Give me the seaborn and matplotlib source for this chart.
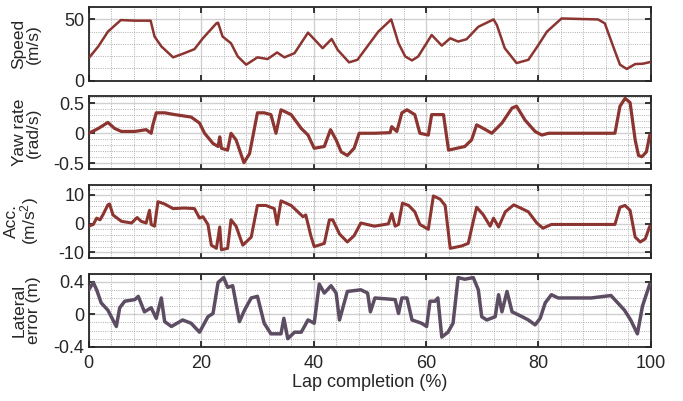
import matplotlib
matplotlib.use("Agg")
import matplotlib.pyplot as plt
from matplotlib.ticker import MultipleLocator, FixedLocator
import seaborn as sns
import pandas as pd

# values (lap completion %, value)
speed_lap = [0, 1.7, 3.4, 5.7, 8.2, 11, 11.7, 12.9, 15, 17, 18.8, 20.3, 22.7, 23, 23.8, 25.3,
             26.5, 28, 30, 31.8, 33.5, 34.8, 36.6, 39, 41.6, 43.2, 44.3, 46.3, 47.8, 49.2,
             51.5, 53.8, 55.1, 56.3, 57.5, 58.6, 61, 62.8, 64.3, 65.7, 67.2, 69.3, 72, 72.6,
             74, 76.1, 78.2, 80, 81.5, 84.1, 90.6, 91.8, 93.3, 94.5, 95.7, 97.2, 98.6, 99.8]
speed_val = [18.4, 28, 40, 49.5, 49, 49, 36, 28, 19, 22.4, 25.7, 34.6, 46.8, 47.3, 36, 30.5,
             19.7, 13, 19, 17.6, 23, 19, 22.4, 39.2, 26.5, 34, 25, 14.9, 17, 25.7,
             40, 50, 30.5, 19.7, 16.5, 19.7, 37.3, 28.6, 34.6, 31.9, 33.8, 44, 50, 45.4,
             26.5, 14.3, 17, 29.2, 40, 50.8, 50, 46.8, 27.8, 13, 9.5, 13.5, 13.8, 15.1]

yaw_lap = [0, 1.7, 3.4, 4.6, 5.8, 8.2, 10.2, 11.1, 11.4, 12, 13.5, 15.3, 18.2, 19.7, 20.6,
           22.1, 23, 23.3, 23.6, 24.7, 25.3, 26.2, 27.6, 28.6, 30, 31.2, 32.4, 33.3, 34.2,
           36, 37.8, 39, 40.1, 41.9, 43, 44, 44.9, 46, 47.2, 48.1, 50.8, 53.6, 53.9, 54.8,
           55.7, 56.6, 58, 58.9, 60.4, 61, 63.1, 64, 66.9, 68.1, 69, 70.2, 71.7, 73.5, 75.3,
           76.1, 77.6, 79.4, 80.6, 81.8, 93.6, 94.5, 95.4, 96.3, 97.2, 97.8, 98.4, 99.2, 99.8]
yaw_val = [0, 0.08, 0.18, 0.08, 0.03, 0.03, 0.06, 0, 0.14, 0.34, 0.34, 0.31, 0.27, 0.17, 0,
           -0.17, -0.22, -0.06, -0.25, -0.28, 0, -0.11, -0.49, -0.34, 0.34, 0.34, 0.31, 0, 0.39,
           0.31, 0.08, -0.03, -0.25, -0.22, 0.06, -0.11, -0.31, -0.37, -0.25, 0, 0, 0.01, 0.11, 0.03,
           0.34, 0.39, 0.31, 0, -0.03, 0.31, 0.31, -0.28, -0.22, -0.11, 0.14, 0.08, 0, 0.17, 0.42,
           0.45, 0.22, 0.03, -0.03, 0, 0, 0.45, 0.58, 0.51, -0.11, -0.37, -0.39, -0.31, -0.03]

acc_lap = [0, 0.8, 1.4, 2, 2.5, 3.4, 3.7, 4.3, 5.8, 7.6, 8.6, 9.3, 10.2, 10.8, 11.1, 11.7,
           12.3, 13.5, 15, 17, 18.8, 19.7, 20.3, 21.2, 21.8, 22.7, 23.3, 23.6, 24.7, 25.3,
           26.2, 27.4, 28.9, 30, 31.5, 33, 33.5, 34.2, 36, 38.1, 38.6, 39.5, 40.1, 41.9, 42.8,
           43.4, 44.6, 46, 47.2, 48.4, 50.8, 53.3, 53.9, 54.5, 55.1, 55.8, 56.9, 58, 58.9,
           60.4, 61.3, 62.5, 63.4, 64.3, 66.3, 67.5, 68.4, 69, 70.2, 71.4, 72, 72.9, 74.1,
           75.6, 76.5, 78.2, 79.7, 80.8, 82.3, 87.6, 93.6, 94.5, 95.4, 96.3, 97.2, 98.1, 99, 99.8]
acc_val = [-0.9, -0.3, 1.9, 1.3, 3, 6.5, 6.8, 3, 0.8, 0.2, 2.1, 0.8, 0.2, 4.6, -0.3, -0.9,
           7.6, 6.8, 5.2, 5.4, 5.2, 1.9, 2.4, -0.3, -7.5, -8.6, -1.2, -9.1, -8.6, 1.3,
           -0.9, -7.5, -4.7, 6.3, 6.3, 5.2, -0.3, 7.9, 6.3, 2.4, 3, -4.2, -8, -6.9, 1.3,
           1.3, -3.6, -6.4, -4.2, 0.2, -0.9, -0.1, 3.5, -0.9, -0.3, 7.1, 6.3, 4.1, -0.3,
           -2, 9.6, 8.5, 6.3, -8.6, -7.8, -6.9, 0.8, 5.7, 3, -0.9, 1.9, -1.2, 4.1,
           6.5, 5.7, 4.1, 0.2, -1.6, -0.3, -0.3, -0.3, 5.7, 6.3, 4.6, -4.7, -6.4, -5.3, -0.9]

lat_lap = [0, 0.8, 1.4, 2.2, 3.4, 4, 4.9, 5.5, 6.4, 8.2, 8.8, 9.9, 11.1, 12, 12.9, 13.5,
           14.7, 16.7, 18.2, 19.7, 21.2, 22.1, 23, 24, 24.7, 25.6, 26.8, 27.7, 28.9, 30,
           31.2, 32.4, 34.2, 34.7, 35.4, 36.6, 37.8, 39, 40.1, 41, 41.9, 43.1, 44, 44.6,
           46, 48.4, 49.6, 50.1, 50.9, 54.5, 55.1, 55.7, 56.6, 57.5, 59.2, 60.1, 60.7, 61.6,
           62.1, 62.8, 63.9, 64.8, 65.7, 66.9, 68.4, 69.3, 69.9, 70.8, 72.3, 72.9, 73.5,
           74.4, 75.3, 77.1, 78.2, 79.4, 80.3, 81.2, 82.3, 83.5, 89.4, 92.9, 95.3, 96.4,
           97.6, 98.5, 99.8]
lat_val = [0.3, 0.39, 0.3, 0.14, 0.05, -0.03, -0.15, 0.08, 0.16, 0.18, 0.22, 0.03, 0.08, -0.05,
           0.2, -0.09, -0.15, -0.07, -0.11, -0.22, -0.03, 0.01, 0.39, 0.45, 0.33, 0.35, -0.09,
           0.05, 0.2, 0.22, -0.11, -0.24, -0.24, -0.05, -0.3, -0.22, -0.22, -0.07, -0.11, 0.37,
           0.26, 0.35, 0.26, -0.07, 0.28, 0.3, 0.26, 0.03, 0.2, 0.18, 0.01, 0.2, 0.2, -0.07,
           -0.11, -0.15, 0.16, 0.16, 0.2, -0.28, -0.22, -0.11, 0.45, 0.43, 0.45, 0.3, -0.03,
           -0.07, -0.03, 0.24, 0.03, 0.28, 0.03, -0.03, -0.07, -0.13, -0.05, 0.14, 0.24, 0.2,
           0.2, 0.23, 0.05, -0.07, -0.24, 0.1, 0.37]

RED = "#8c3430"
PURPLE = "#5d4d63"

sns.set_style("ticks")
plt.rcParams["font.family"] = ["Liberation Sans", "DejaVu Sans"]
plt.rcParams["mathtext.fontset"] = "custom"
plt.rcParams["mathtext.rm"] = "Liberation Sans"
plt.rcParams["mathtext.it"] = "Liberation Sans"

fig, axes = plt.subplots(4, 1, figsize=(6.83, 4.01), dpi=100, sharex=True)
fig.subplots_adjust(left=0.130, right=0.953, top=0.982, bottom=0.135, hspace=0.21)

panels = [
    (speed_lap, speed_val, RED, 1.8, "Speed\n(m/s)", (0, 60), [0, 50], 10),
    (yaw_lap, yaw_val, RED, 2.3, "Yaw rate\n(rad/s)", (-0.6, 0.62), [-0.5, 0, 0.5], 0.1),
    (acc_lap, acc_val, RED, 2.2, "Acc.\n(m/s$^2$)", (-12, 13.5), [-10, 0, 10], 2),
    (lat_lap, lat_val, PURPLE, 2.5, "Lateral\nerror (m)", (-0.4, 0.5), [-0.4, 0, 0.4], 0.1),
]

for ax, (lap, val, col, lw, lab, ylim, yt, minor) in zip(axes, panels):
    df = pd.DataFrame({"lap": lap, "val": val})
    sns.lineplot(data=df, x="lap", y="val", ax=ax, color=col, linewidth=lw, zorder=3)
    ax.set_xlim(0, 100)
    ax.set_ylim(*ylim)
    ax.yaxis.set_major_locator(FixedLocator(yt))
    ax.yaxis.set_minor_locator(MultipleLocator(minor))
    ax.xaxis.set_major_locator(MultipleLocator(20))
    ax.xaxis.set_minor_locator(MultipleLocator(4))
    ax.set_yticklabels([f"{t:g}" for t in yt])
    ax.grid(which="major", color="#d0d0d0", linewidth=1.0, linestyle="-", zorder=0)
    ax.grid(which="minor", color="#b0b0b0", linewidth=0.7, linestyle=(0, (1, 1.3)), zorder=0)
    ax.set_axisbelow(True)
    ax.tick_params(which="major", direction="in", length=4, width=1.3, color="#262626",
                   top=True, right=True, labelsize=13, pad=3, labelcolor="#262626")
    ax.tick_params(which="minor", length=0)
    for s in ax.spines.values():
        s.set_color("#262626")
        s.set_linewidth(1.3)
    ax.set_ylabel(lab, fontsize=12.5, linespacing=0.95, color="#262626")
    ax.yaxis.set_label_coords(-0.085, 0.5)
    ax.set_xlabel("")

axes[-1].set_xticks([0, 20, 40, 60, 80, 100])
axes[-1].tick_params(axis="x", which="major", pad=6)
axes[-1].set_xlabel("Lap completion (%)", fontsize=13, color="#262626", labelpad=1)

fig.savefig("out.png", dpi=100)
